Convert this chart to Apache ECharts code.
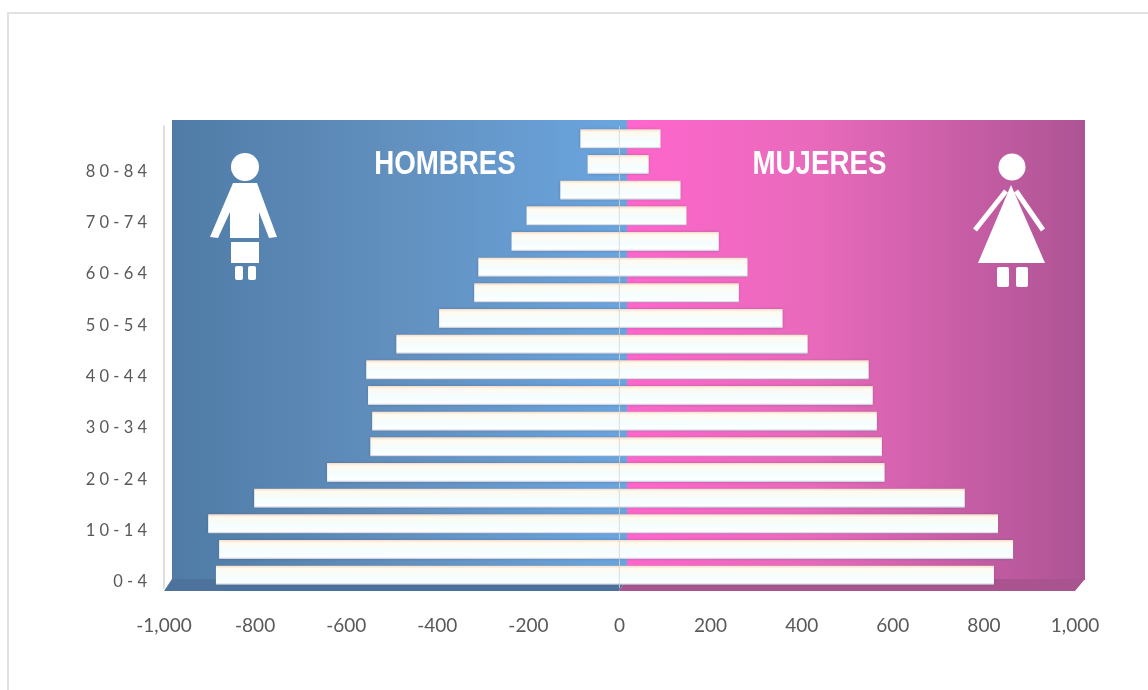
<!DOCTYPE html>
<html lang="es">
	<head>
		<meta charset="UTF-8" />
		<title>Pirámide de población</title>
		<style>
			* {
				box-sizing: border-box;
				margin: 0;
				padding: 0;
			}

			body {
				background: #fff;
			}

			#chart {
				width: 1148px;
				height: 690px;
			}
		</style>
	</head>
	<body>
		<div id="chart"></div>
		<script src="https://cdn.jsdelivr.net/npm/echarts@6/dist/echarts.min.js"></script>
		<script>
			// grupos de edad, de abajo hacia arriba
			var ageGroups = ['0-4', '5-9', '10-14', '15-19', '20-24', '25-29', '30-34', '35-39', '40-44', '45-49', '50-54', '55-59', '60-64', '65-69', '70-74', '75-79', '80-84', '85+']
			var hombres = [-886, -879, -903, -802, -642, -547, -543, -552, -556, -490, -396, -319, -310, -237, -204, -130, -70, -86]
			var mujeres = [822, 864, 831, 758, 582, 576, 565, 556, 547, 413, 358, 262, 281, 218, 147, 134, 64, 90]
			var xTicks = { min: -1000, max: 1000, interval: 200 }

			var barColor = {
				type: 'linear', x: 0, y: 0, x2: 0, y2: 1,
				colorStops: [
					{ offset: 0, color: '#f3dcca' },
					{ offset: 0.15, color: '#fffaf0' },
					{ offset: 0.6, color: '#f4fdff' },
					{ offset: 0.9, color: '#ffffff' },
					{ offset: 1, color: '#bcc6d8' }
				]
			}

			function barSeries(name, data, extra) {
				return Object.assign({
					name: name,
					type: 'bar',
					data: data,
					barWidth: 19,
					barGap: '-100%',
					z: 5,
					itemStyle: { color: barColor, shadowColor: 'rgba(70,70,90,0.35)', shadowBlur: 3 }
				}, extra)
			}

			// paredes y piso del fondo 3D
			var wall = [
				{
					type: 'rect', z: 0,
					shape: { x: 172, y: 120, width: 455, height: 460 },
					style: {
						fill: {
							type: 'linear', x: 0, y: 0, x2: 1, y2: 0,
							colorStops: [
								{ offset: 0, color: '#4f7ba6' },
								{ offset: 0.5, color: '#6290bf' },
								{ offset: 1, color: '#6aa6e0' }
							]
						}
					}
				},
				{
					type: 'rect', z: 0,
					shape: { x: 627, y: 120, width: 458, height: 460 },
					style: {
						fill: {
							type: 'linear', x: 0, y: 0, x2: 1, y2: 0,
							colorStops: [
								{ offset: 0, color: '#ff66cc' },
								{ offset: 0.4, color: '#e96abc' },
								{ offset: 1, color: '#ad5494' }
							]
						}
					}
				},
				{
					type: 'polygon', z: 1,
					shape: { points: [[172, 579], [627, 579], [619, 591], [164, 591]] },
					style: { fill: '#4d739c' }
				},
				{
					type: 'polygon', z: 1,
					shape: { points: [[627, 579], [1085, 579], [1075, 591], [619, 591]] },
					style: { fill: '#a9548e' }
				},
				{
					type: 'text', z: 6, x: 445, y: 165, scaleX: 0.84,
					style: { text: 'HOMBRES', x: 0, y: 0, align: 'center', verticalAlign: 'middle', fill: '#fff', font: 'bold 33px "Liberation Sans"' }
				},
				{
					type: 'text', z: 6, x: 819.5, y: 165, scaleX: 0.84,
					style: { text: 'MUJERES', x: 0, y: 0, align: 'center', verticalAlign: 'middle', fill: '#fff', font: 'bold 33px "Liberation Sans"' }
				},
				// marco exterior
				{
					type: 'polyline', z: 0,
					shape: { points: [[8, 690], [8, 13], [1148, 13]] },
					style: { fill: null, stroke: '#e2e2e2', lineWidth: 2 }
				}
			]

			// figura de hombre
			var man = [
				{ type: 'circle', z: 3, shape: { cx: 245, cy: 167, r: 14 }, style: { fill: '#fff' } },
				{ type: 'polygon', z: 3, shape: { points: [[233, 183], [257, 183], [277, 237], [269, 238], [259, 212], [259, 238], [230, 238], [230, 212], [218, 238], [210, 237]] }, style: { fill: '#fff' } },
				{ type: 'rect', z: 3, shape: { x: 231, y: 242, width: 28, height: 21 }, style: { fill: '#fff' } },
				{ type: 'rect', z: 3, shape: { x: 235, y: 266, width: 8, height: 14, r: 2 }, style: { fill: '#fff' } },
				{ type: 'rect', z: 3, shape: { x: 248, y: 266, width: 8, height: 14, r: 2 }, style: { fill: '#fff' } }
			]

			// figura de mujer
			var woman = [
				{ type: 'circle', z: 3, shape: { cx: 1012, cy: 167, r: 13.5 }, style: { fill: '#fff' } },
				{ type: 'polygon', z: 3, shape: { points: [[1011, 185], [1045, 263], [978, 263]] }, style: { fill: '#fff' } },
				{ type: 'line', z: 3, shape: { x1: 1006, y1: 191, x2: 975, y2: 230 }, style: { stroke: '#fff', lineWidth: 5 } },
				{ type: 'line', z: 3, shape: { x1: 1016, y1: 191, x2: 1043, y2: 230 }, style: { stroke: '#fff', lineWidth: 5 } },
				{ type: 'rect', z: 3, shape: { x: 997, y: 267, width: 12, height: 20, r: 2 }, style: { fill: '#fff' } },
				{ type: 'rect', z: 3, shape: { x: 1016, y: 267, width: 12, height: 20, r: 2 }, style: { fill: '#fff' } }
			]

			var chart = echarts.init(document.getElementById('chart'))
			chart.setOption({
				animation: false,
				backgroundColor: '#fff',
				graphic: wall.concat(man, woman),
				grid: { left: 164, right: 73, top: 126, bottom: 102 },
				xAxis: {
					type: 'value',
					min: xTicks.min,
					max: xTicks.max,
					interval: xTicks.interval,
					axisLine: { show: false },
					axisTick: { show: false },
					splitLine: { show: false },
					axisLabel: {
						color: '#595959',
						fontSize: 19,
						fontFamily: 'Lato',
						margin: 28
					}
				},
				yAxis: {
					type: 'category',
					data: ageGroups,
					axisLine: { onZero: false, lineStyle: { color: '#dde0dc', width: 2 } },
					axisTick: { show: false },
					axisLabel: {
						interval: 1,
						color: '#595959',
						fontSize: 16.5,
						fontFamily: 'Lato',
						margin: 17,
						lineHeight: 14,
						verticalAlign: 'top',
						formatter: function (v) {
							return v.split('').join(' ')
						}
					}
				},
				series: [
					barSeries('Hombres', hombres),
					barSeries('Mujeres', mujeres, {
						markLine: {
							silent: true,
							symbol: 'none',
							label: { show: false },
							lineStyle: { color: '#c8ccd0', width: 1, type: 'solid' },
							data: [{ xAxis: 0 }]
						}
					})
				]
			})
		</script>
	</body>
</html>
